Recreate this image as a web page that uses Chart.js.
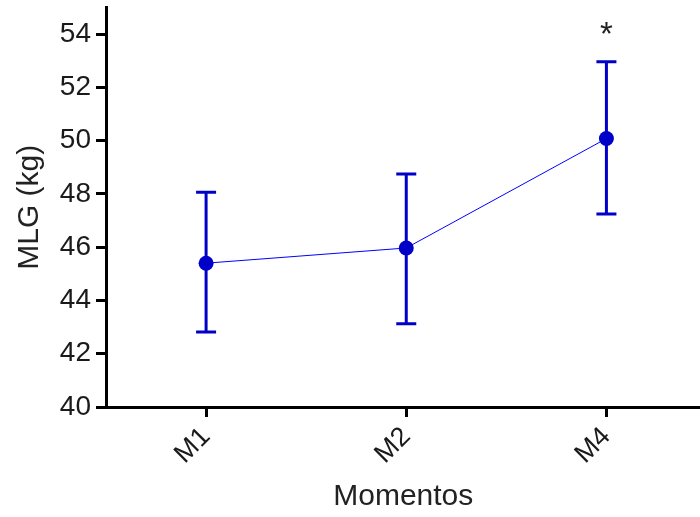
<!DOCTYPE html>
<html>
<head>
<meta charset="utf-8">
<script src="https://cdn.jsdelivr.net/npm/chart.js@4.4.1/dist/chart.umd.min.js"></script>
<style>
  html, body { margin: 0; padding: 0; background: #fff; overflow: hidden; }
  /* a bit wider than the window: Chart.js keeps room for the point radius on the right */
  #wrap { width: 708px; height: 517px; }
</style>
</head>
<body>
<div id="wrap"><canvas id="mlgChart"></canvas></div>
<script>
// Data
const categories = ["M1", "M2", "M4"];
const means = [45.4, 45.97, 50.08];
const upper = [48.06, 48.75, 52.96];
const lower = [42.82, 43.13, 47.25];
const marks = ["", "", "*"];
const yTicks = [40, 42, 44, 46, 48, 50, 52, 54];

const blue = "#0000c8";
const family = "'Liberation Sans', Arial, sans-serif";

// Error bars + significance marks
const errorBars = {
  id: "errorBars",
  beforeDatasetsDraw(chart) {
    const ctx = chart.ctx;
    const xs = chart.scales.x;
    const ys = chart.scales.y;
    ctx.save();
    ctx.strokeStyle = blue;
    ctx.lineWidth = 3;
    categories.forEach((c, i) => {
      const x = xs.getPixelForValue(i + 1);
      const yTop = ys.getPixelForValue(upper[i]);
      const yBot = ys.getPixelForValue(lower[i]);
      ctx.beginPath();
      ctx.moveTo(x, yTop);
      ctx.lineTo(x, yBot);
      ctx.moveTo(x - 10, yTop);
      ctx.lineTo(x + 10, yTop);
      ctx.moveTo(x - 10, yBot);
      ctx.lineTo(x + 10, yBot);
      ctx.stroke();
    });
    ctx.restore();
  },
  afterDatasetsDraw(chart) {
    const ctx = chart.ctx;
    const xs = chart.scales.x;
    const ys = chart.scales.y;
    ctx.save();
    ctx.fillStyle = "#222";
    ctx.font = "33px " + family;
    ctx.textAlign = "center";
    ctx.textBaseline = "alphabetic";
    marks.forEach((m, i) => {
      if (!m) return;
      const x = xs.getPixelForValue(i + 1);
      const y = ys.getPixelForValue(upper[i]) - 17;
      ctx.fillText(m, x, y);
    });
    ctx.restore();
  },
};

new Chart(document.getElementById("mlgChart"), {
  type: "line",
  data: {
    datasets: [
      {
        data: means.map((v, i) => ({ x: i + 1, y: v })),
        borderColor: "#0000ff",
        borderWidth: 1,
        pointRadius: 7.5,
        pointBackgroundColor: blue,
        pointBorderColor: blue,
        pointBorderWidth: 0,
        tension: 0,
      },
    ],
  },
  options: {
    responsive: true,
    maintainAspectRatio: false,
    animation: false,
    layout: { padding: { top: 7, right: 0, left: 0, bottom: 0 } },
    plugins: {
      legend: { display: false },
      tooltip: { enabled: false },
    },
    scales: {
      x: {
        type: "linear",
        min: 0.5,
        max: 3.47,
        afterBuildTicks(scale) {
          scale.ticks = categories.map((c, i) => ({ value: i + 1 }));
        },
        afterFit(scale) {
          scale.height = 110;
          scale.paddingLeft = 0;
          scale.paddingRight = 0;
        },
        border: { display: true, color: "#000", width: 3 },
        grid: {
          drawOnChartArea: false,
          drawTicks: true,
          tickLength: 10,
          color: "#000",
          lineWidth: 3,
        },
        ticks: {
          color: "#1a1a1a",
          font: { family: family, size: 27 },
          minRotation: 45,
          maxRotation: 45,
          padding: 4,
          callback: (v) => categories[v - 1] ?? "",
        },
        title: {
          display: true,
          text: "Momentos",
          color: "#222",
          font: { family: family, size: 30 },
          padding: { top: 0, bottom: 2 },
        },
      },
      y: {
        min: 40,
        max: 55,
        afterBuildTicks(scale) {
          scale.ticks = yTicks.map((v) => ({ value: v }));
        },
        afterFit(scale) {
          scale.width = 106;
          scale.paddingTop = 0;
          scale.paddingBottom = 0;
        },
        border: { display: true, color: "#000", width: 3 },
        grid: {
          drawOnChartArea: false,
          drawTicks: true,
          tickLength: 10,
          color: "#000",
          lineWidth: 3,
        },
        ticks: {
          color: "#1a1a1a",
          font: { family: family, size: 28 },
          padding: 5,
        },
        title: {
          display: true,
          text: "MLG (kg)",
          color: "#222",
          font: { family: family, size: 30 },
          padding: { top: 12, bottom: 0 },
        },
      },
    },
  },
  plugins: [errorBars],
});
</script>
</body>
</html>
